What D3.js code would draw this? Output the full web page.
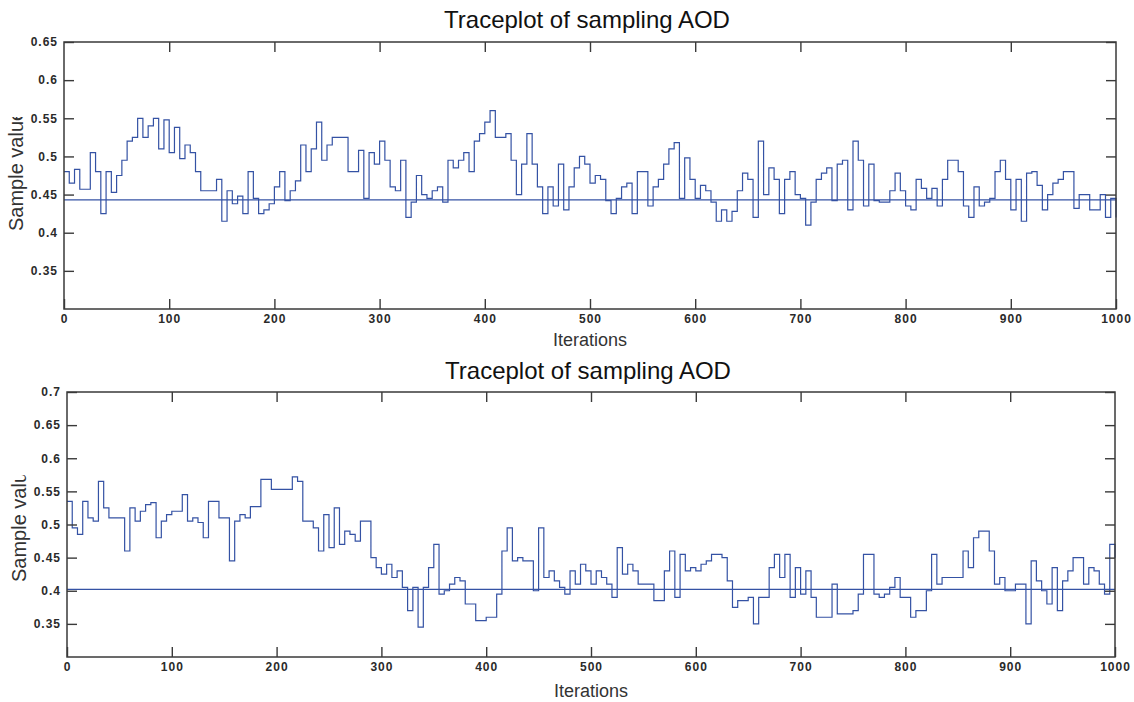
<!DOCTYPE html>
<html lang="en">
<head>
<meta charset="utf-8">
<script src="https://d3js.org/d3.v7.min.js"></script>
<style>
  body { margin: 0; background: #fff; }
  svg { display: block; }
  .tick text { font-family: "Liberation Sans", Arial, sans-serif; font-size: 12px; font-weight: bold; fill: #2a2a2a; letter-spacing: 1px; }
  .tick line { stroke: #3a3a3a; stroke-width: 1.4; }
  .title { font-family: "Liberation Sans", Arial, sans-serif; font-size: 24px; fill: #111; }
  .label { font-family: "Liberation Sans", Arial, sans-serif; font-size: 18px; fill: #333; }
  .ylabel { font-family: "Liberation Sans", Arial, sans-serif; font-size: 20px; fill: #333; }
</style>
</head>
<body>
<div id="chart"></div>
<script>
// iterations are sampled every 5 steps (0..1000)
var step = 5;

var traceTop = [
  0.480,0.465,0.483,0.457,0.457,0.505,0.480,0.425,0.480,0.453,
  0.475,0.495,0.520,0.525,0.550,0.525,0.540,0.550,0.510,0.548,
  0.505,0.538,0.497,0.515,0.505,0.480,0.455,0.455,0.455,0.470,
  0.415,0.455,0.438,0.448,0.425,0.480,0.445,0.425,0.430,0.438,
  0.460,0.480,0.442,0.455,0.468,0.515,0.480,0.510,0.545,0.495,
  0.515,0.525,0.525,0.525,0.480,0.480,0.508,0.445,0.505,0.490,
  0.520,0.495,0.460,0.455,0.495,0.420,0.440,0.475,0.450,0.445,
  0.455,0.460,0.440,0.495,0.485,0.495,0.505,0.480,0.520,0.530,
  0.545,0.560,0.525,0.525,0.530,0.495,0.450,0.490,0.530,0.490,
  0.460,0.425,0.460,0.435,0.490,0.430,0.460,0.485,0.500,0.490,
  0.465,0.475,0.470,0.442,0.425,0.445,0.460,0.465,0.425,0.480,
  0.480,0.435,0.460,0.470,0.490,0.510,0.518,0.445,0.498,0.470,
  0.445,0.462,0.455,0.440,0.415,0.430,0.415,0.428,0.455,0.478,
  0.470,0.420,0.520,0.450,0.485,0.470,0.425,0.470,0.480,0.450,
  0.445,0.410,0.440,0.470,0.478,0.485,0.442,0.490,0.495,0.430,
  0.520,0.495,0.435,0.490,0.442,0.440,0.440,0.455,0.478,0.455,
  0.435,0.430,0.470,0.458,0.445,0.458,0.435,0.470,0.495,0.495,
  0.480,0.435,0.420,0.460,0.435,0.440,0.445,0.480,0.495,0.470,
  0.430,0.470,0.415,0.478,0.480,0.462,0.430,0.450,0.465,0.470,
  0.480,0.480,0.432,0.450,0.450,0.430,0.430,0.450,0.420,0.445,
  0.420
];
var meanTop = 0.443;

// bottom panel
var traceBottom = [
  0.535,0.495,0.485,0.535,0.510,0.505,0.565,0.525,0.510,0.510,
  0.510,0.460,0.525,0.505,0.520,0.530,0.533,0.480,0.505,0.515,
  0.520,0.520,0.545,0.505,0.510,0.503,0.480,0.535,0.535,0.510,
  0.510,0.445,0.505,0.515,0.510,0.527,0.527,0.568,0.568,0.553,
  0.553,0.553,0.553,0.572,0.565,0.505,0.505,0.495,0.460,0.515,
  0.465,0.525,0.470,0.490,0.485,0.475,0.505,0.505,0.450,0.435,
  0.425,0.440,0.420,0.430,0.405,0.370,0.405,0.345,0.405,0.435,
  0.470,0.395,0.400,0.410,0.420,0.415,0.380,0.380,0.355,0.355,
  0.360,0.360,0.395,0.460,0.495,0.445,0.450,0.445,0.445,0.400,
  0.495,0.420,0.430,0.415,0.405,0.395,0.430,0.410,0.440,0.430,
  0.410,0.430,0.420,0.410,0.390,0.465,0.425,0.440,0.430,0.410,
  0.410,0.410,0.385,0.385,0.430,0.460,0.390,0.455,0.430,0.435,
  0.430,0.440,0.445,0.455,0.455,0.450,0.415,0.375,0.385,0.385,
  0.390,0.350,0.390,0.390,0.435,0.455,0.420,0.455,0.390,0.435,
  0.395,0.430,0.390,0.360,0.360,0.360,0.410,0.365,0.365,0.365,
  0.370,0.395,0.455,0.455,0.395,0.390,0.395,0.405,0.420,0.390,
  0.390,0.360,0.370,0.370,0.400,0.455,0.410,0.420,0.420,0.420,
  0.420,0.460,0.435,0.480,0.490,0.490,0.460,0.410,0.420,0.400,
  0.400,0.410,0.410,0.350,0.445,0.415,0.400,0.380,0.435,0.370,
  0.415,0.430,0.450,0.450,0.410,0.435,0.430,0.410,0.395,0.470,
  0.450
];
var meanBottom = 0.402;

var xTicks = [0, 100, 200, 300, 400, 500, 600, 700, 800, 900, 1000];
var yTicksTop = [0.35, 0.4, 0.45, 0.5, 0.55, 0.6, 0.65];
var yTicksBottom = [0.35, 0.4, 0.45, 0.5, 0.55, 0.6, 0.65, 0.7];

var width = 1134, height = 702;
var lineColor = "#3452a4";

var svg = d3.select("#chart").append("svg")
  .attr("width", width)
  .attr("height", height);

function drawPanel(cfg) {
  var x = d3.scaleLinear().domain([0, 1000]).range([cfg.left, cfg.right]);
  var y = d3.scaleLinear().domain(cfg.yDomain).range([cfg.bottom, cfg.top]);
  var g = svg.append("g");

  var data = cfg.values.map(function(v, i) { return { it: i * step, v: v }; });

  var line = d3.line()
    .x(function(d) { return x(d.it); })
    .y(function(d) { return y(d.v); })
    .curve(d3.curveStepAfter);

  // trace
  g.append("path")
    .datum(data)
    .attr("fill", "none")
    .attr("stroke", lineColor)
    .attr("stroke-width", 1.2)
    .attr("d", line);

  // mean line
  g.append("line")
    .attr("x1", x(0)).attr("x2", x(1000))
    .attr("y1", y(cfg.mean)).attr("y2", y(cfg.mean))
    .attr("stroke", lineColor)
    .attr("stroke-width", 1.3);

  // axes with inward ticks
  g.append("g")
    .attr("transform", "translate(" + cfg.left + ",0)")
    .call(d3.axisLeft(y).tickValues(cfg.yTicks).tickSizeInner(-10).tickSizeOuter(0).tickPadding(6)
      .tickFormat(function(d) { return String(+d.toFixed(2)); }))
    .call(function(s) { s.select(".domain").remove(); });

  g.append("g")
    .attr("transform", "translate(" + cfg.right + ",0)")
    .call(d3.axisRight(y).tickValues(cfg.yTicks).tickSizeInner(-10).tickSizeOuter(0).tickFormat(""))
    .call(function(s) { s.select(".domain").remove(); });

  g.append("g")
    .attr("transform", "translate(0," + cfg.bottom + ")")
    .call(d3.axisBottom(x).tickValues(xTicks).tickSizeInner(-10).tickSizeOuter(0).tickPadding(5)
      .tickFormat(d3.format("d")))
    .call(function(s) { s.select(".domain").remove(); });

  g.append("g")
    .attr("transform", "translate(0," + cfg.top + ")")
    .call(d3.axisTop(x).tickValues(xTicks.slice(1, -1)).tickSizeInner(-10).tickSizeOuter(0).tickFormat(""))
    .call(function(s) { s.select(".domain").remove(); });

  g.selectAll(".tick text").attr("fill", null);
  g.selectAll(".tick line").attr("stroke", null);

  // box
  g.append("rect")
    .attr("x", cfg.left).attr("y", cfg.top)
    .attr("width", cfg.right - cfg.left).attr("height", cfg.bottom - cfg.top)
    .attr("fill", "none")
    .attr("stroke", "#3a3a3a")
    .attr("stroke-width", 1.5);

  // title
  g.append("text")
    .attr("class", "title")
    .attr("x", (cfg.left + cfg.right) / 2 - 3)
    .attr("y", cfg.titleY)
    .attr("text-anchor", "middle")
    .text("Traceplot of sampling AOD");

  // x label
  g.append("text")
    .attr("class", "label")
    .attr("x", (cfg.left + cfg.right) / 2)
    .attr("y", cfg.xLabelY)
    .attr("text-anchor", "middle")
    .text("Iterations");

  // y label, its end is cut off like in the original figure
  var clipId = "yclip" + cfg.id;
  svg.append("clipPath").attr("id", clipId)
    .append("rect")
    .attr("x", 0).attr("y", cfg.yLabelCut)
    .attr("width", 40).attr("height", 300);

  g.append("g")
    .attr("clip-path", "url(#" + clipId + ")")
    .append("text")
    .attr("class", "ylabel")
    .attr("transform", "translate(" + cfg.yLabelX + "," + cfg.yLabelStart + ") rotate(-90)")
    .attr("text-anchor", "start")
    .text("Sample value");
}

drawPanel({
  id: 1, values: traceTop, mean: meanTop,
  left: 64, right: 1116, top: 42, bottom: 309,
  yDomain: [0.3, 0.65], yTicks: yTicksTop,
  titleY: 28, xLabelY: 346,
  yLabelX: 23, yLabelStart: 231, yLabelCut: 117
});

drawPanel({
  id: 2, values: traceBottom, mean: meanBottom,
  left: 67, right: 1115, top: 392, bottom: 657,
  yDomain: [0.3, 0.7], yTicks: yTicksBottom,
  titleY: 379, xLabelY: 697,
  yLabelX: 26, yLabelStart: 582, yLabelCut: 475
});
</script>
</body>
</html>
